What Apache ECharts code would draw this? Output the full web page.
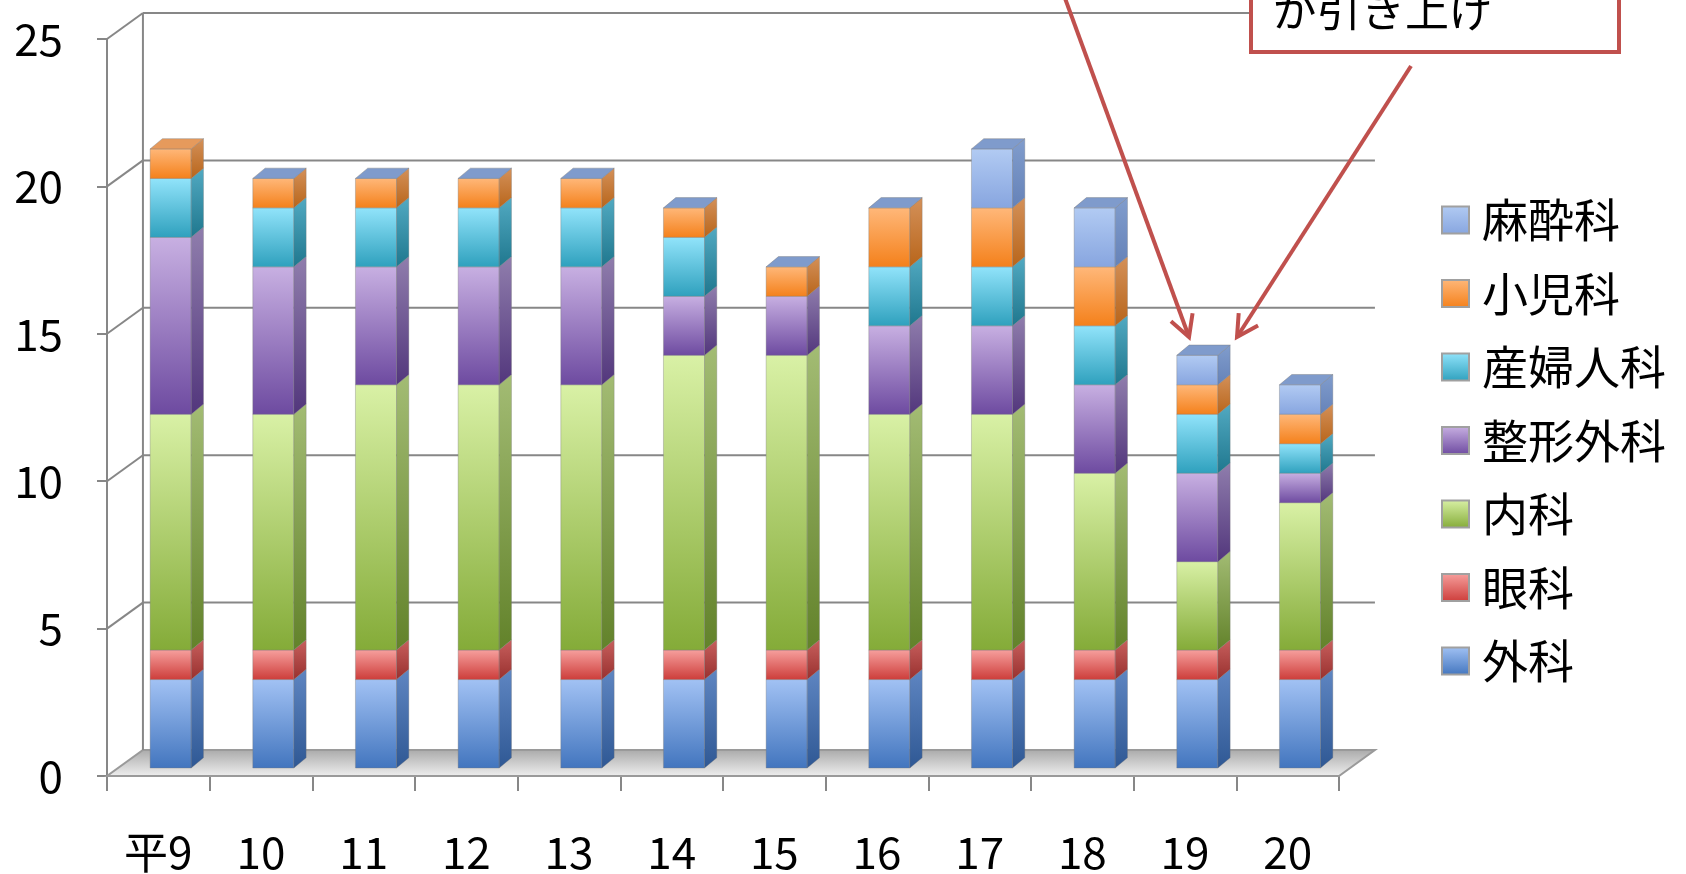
<!DOCTYPE html>
<html><head><meta charset="utf-8">
<script src="https://cdn.jsdelivr.net/npm/echarts@6/dist/echarts.min.js"></script>
<style>html,body{margin:0;padding:0;background:#fff}#c{width:1686px;height:874px}</style>
</head><body><div id="c"></div><script>
// ---- data ----
const categories = ['平9','10','11','12','13','14','15','16','17','18','19','20'];
const geka   = [3,3,3,3,3,3,3,3,3,3,3,3];      // 外科
const ganka  = [1,1,1,1,1,1,1,1,1,1,1,1];      // 眼科
const naika  = [8,8,9,9,9,10,10,8,8,6,3,5];    // 内科
const seikei = [6,5,4,4,4,2,2,3,3,3,3,1];      // 整形外科
const sanfu  = [2,2,2,2,2,2,0,2,2,2,2,1];      // 産婦人科
const shoni  = [1,1,1,1,1,1,1,2,2,2,1,1];      // 小児科
const masui  = [null,0,0,0,0,0,0,0,2,2,1,1];   // 麻酔科
const yTicks = [0,5,10,15,20,25];
const seriesNames = ['外科','眼科','内科','整形外科','産婦人科','小児科','麻酔科'];
const seriesValues = [geka, ganka, naika, seikei, sanfu, shoni, masui];

// ---- styles ----
const FONT = 'Noto Sans CJK JP';
const palette = [
  {front:['#a2c2f4','#4275be'], side:['#5f86c2','#2f5894'], top:'#6f93cf'},
  {front:['#f7a09e','#cc3c39'], side:['#c8605e','#98302e'], top:'#e0706e'},
  {front:['#d9f1a6','#84ab38'], side:['#a3bc74','#62822a'], top:'#b9d682'},
  {front:['#c8b0e2','#6d4aa0'], side:['#907ead','#52367c'], top:'#a993cc'},
  {front:['#92e4fb','#2ea0bd'], side:['#52aac2','#1f778e'], top:'#6bcde6'},
  {front:['#ffb87a','#f4801a'], side:['#d4915a','#b8651a'], top:'#e69a5c'},
  {front:['#b2cbf3','#87a5df'], side:['#819dcd','#6582b8'], top:'#7f9bcc'}
];
function vgrad(a,b){return {type:'linear',x:0,y:0,x2:0,y2:1,colorStops:[{offset:0,color:a},{offset:1,color:b}]};}

// ---- stacked data built from arrays ----
const stacked = seriesValues.map(()=>[]);
categories.forEach((c,i)=>{
  let base = 0;
  let topIdx = -1;
  seriesValues.forEach((arr,s)=>{ if(arr[i]!==null && arr[i]!==undefined) topIdx = s; });
  seriesValues.forEach((arr,s)=>{
    const v = arr[i];
    if(v===null || v===undefined) return;
    stacked[s].push([i, base, base+v, s===topIdx?1:0]);
    base += v;
  });
});

function barRender(si){
  const col = palette[si];
  return function(params, api){
    const ci = api.value(0), b = api.value(1), t = api.value(2), isTop = api.value(3);
    const bw = api.size([1,0])[0];
    const pb = api.coord([ci,b]), pt = api.coord([ci,t]);
    const sh = -0.078*bw;
    const x0 = pb[0]-0.08*bw, x1 = pb[0]+0.32*bw;
    const dx = 0.12*bw, dy = -0.1*bw;
    const yb = pb[1]+sh, yt = pt[1]+sh;
    const ch = [];
    if(t>b){
      ch.push({type:'rect',shape:{x:x0,y:yt,width:x1-x0,height:yb-yt},
        style:{fill:vgrad(col.front[0],col.front[1]),stroke:'rgba(120,120,120,0.35)',lineWidth:1}});
      ch.push({type:'polygon',shape:{points:[[x1,yb],[x1+dx,yb+dy],[x1+dx,yt+dy],[x1,yt]]},
        style:{fill:vgrad(col.side[0],col.side[1]),stroke:'rgba(120,120,120,0.3)',lineWidth:1}});
    }
    if(isTop){
      ch.push({type:'polygon',shape:{points:[[x0,yt],[x1,yt],[x1+dx,yt+dy],[x0+dx,yt+dy]]},
        style:{fill:col.top,stroke:'rgba(120,120,120,0.4)',lineWidth:1}});
    }
    return {type:'group',children:ch};
  };
}

function frameRender(params, api){
  const v = api.value(1);
  const cs = params.coordSys;
  const gx = cs.x, gw = cs.width;
  const bw = api.size([1,0])[0];
  const DX = 0.35*bw, DY = -26;
  const y = api.coord([0,v])[1];
  const ch = [];
  const ls = {stroke:'#878787',lineWidth:2};
  if(v===0){
    ch.push({type:'polygon',shape:{points:[[gx,y],[gx+gw,y],[gx+gw+DX,y+DY],[gx+DX,y+DY]]},
      style:{fill:vgrad('#a9a9a9','#f0f0f0'),stroke:'#9a9a9a',lineWidth:2}});
  } else {
    ch.push({type:'line',shape:{x1:gx,y1:y,x2:gx+DX,y2:y+DY},style:ls});
    ch.push({type:'line',shape:{x1:gx+DX,y1:y+DY,x2:gx+gw+DX,y2:y+DY},style:ls});
  }
  if(v===yTicks[yTicks.length-1]){
    const y0 = api.coord([0,0])[1];
    ch.push({type:'line',shape:{x1:gx+DX,y1:y+DY,x2:gx+DX,y2:y0+DY},style:ls});
  }
  return {type:'group',children:ch};
}

function arrow(x1,y1,x2,y2){
  const ang = Math.atan2(y2-y1,x2-x1), L = 24, a = 0.5;
  const p1 = [x2-L*Math.cos(ang-a), y2-L*Math.sin(ang-a)];
  const p2 = [x2-L*Math.cos(ang+a), y2-L*Math.sin(ang+a)];
  return [
    {type:'line',shape:{x1:x1,y1:y1,x2:x2,y2:y2},style:{stroke:'#c0504d',lineWidth:4},z:100},
    {type:'polyline',shape:{points:[p1,[x2,y2],p2]},style:{stroke:'#c0504d',lineWidth:4,fill:null},z:100}
  ];
}

const series = [{
  type:'custom', name:'frame', coordinateSystem:'cartesian2d', renderItem:frameRender,
  data: yTicks.map(v=>[0,v]), encode:{x:0,y:1}, silent:true, z:1
}];
seriesNames.forEach((n,s)=>{
  series.push({type:'custom', name:n, coordinateSystem:'cartesian2d', renderItem:barRender(s),
    data:stacked[s], encode:{x:0,y:[1,2]}, silent:true, z:2,
    itemStyle:{color:vgrad(palette[s].front[0],palette[s].front[1]),borderColor:'#a0a0a0',borderWidth:1}});
});

const chart = echarts.init(document.getElementById('c'));
chart.setOption({
  animation:false,
  backgroundColor:'#fff',
  grid:{left:107,right:347,top:39,bottom:98},
  xAxis:{type:'category',data:categories,boundaryGap:true,
    axisLine:{lineStyle:{color:'#878787',width:2}},
    axisTick:{show:true,length:15,lineStyle:{color:'#878787',width:2}},
    axisLabel:{fontFamily:FONT,fontSize:44,color:'#000',margin:54},
    splitLine:{show:false}},
  yAxis:{type:'value',min:0,max:25,interval:5,
    axisLine:{show:true,lineStyle:{color:'#878787',width:2}},
    axisTick:{show:true,length:10,lineStyle:{color:'#878787',width:2}},
    axisLabel:{fontFamily:FONT,fontSize:44,color:'#000',margin:44},
    splitLine:{show:false}},
  legend:{orient:'vertical',left:1436,top:190,itemWidth:27,itemHeight:27,itemGap:23.5,
    data:seriesNames.slice().reverse(), icon:'rect', selectedMode:false,
    textStyle:{fontFamily:FONT,fontSize:46,color:'#000',lineHeight:50,padding:[0,0,0,8]}},
  series:series,
  graphic:[
    {type:'rect',shape:{x:1251,y:-20,width:368,height:72},style:{fill:'#fff',stroke:'#c0504d',lineWidth:4},z:100},
    {type:'text',x:1273,y:10,style:{text:'が引き上げ',font:'44px "Noto Sans CJK JP"',fill:'#000',verticalAlign:'middle'},z:101},
    ...arrow(1062,-10,1189,337),
    ...arrow(1411,66,1237,337)
  ]
});
</script></body></html>
